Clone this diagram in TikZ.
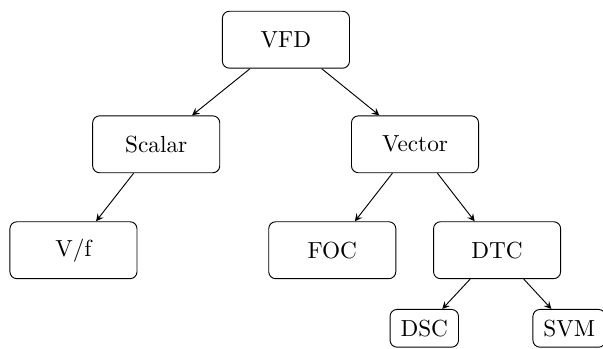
\documentclass[tikz,border=0pt]{standalone}
\usetikzlibrary{arrows}
\begin{document}
\begin{tikzpicture}[>=stealth,
    bigbox/.style={draw, rounded corners=3pt, minimum width=1.92cm, minimum height=0.86cm},
    smallbox/.style={draw, rounded corners=3pt, minimum height=0.57cm, inner xsep=4.5pt}]
    % area del disegno
    \useasboundingbox (0,0) rectangle (9.11,-5.27);

    % Disegna i nodi
    \node[bigbox] (vfd) at (4.32, -0.60) {VFD};
    \node[bigbox] (scalar) at (2.36, -2.18) {Scalar};
    \node[bigbox] (vector) at (6.27, -2.18) {Vector};
    \node[bigbox] (vf) at (1.11, -3.78) {V/f};
    \node[bigbox] (foc) at (5.02, -3.78) {FOC};
    \node[bigbox] (dtc) at (7.51, -3.78) {DTC};
    \node[smallbox] (dsc) at (6.41, -4.96) {DSC};
    \node[smallbox] (svm) at (8.60, -4.96) {SVM};

    % Collega i nodi
    \foreach \a/\b in {vfd/scalar, vfd/vector, scalar/vf, vector/foc, vector/dtc, dtc/dsc, dtc/svm} {
        \draw[->] (\a) -- (\b);
    }
\end{tikzpicture}
\end{document}
